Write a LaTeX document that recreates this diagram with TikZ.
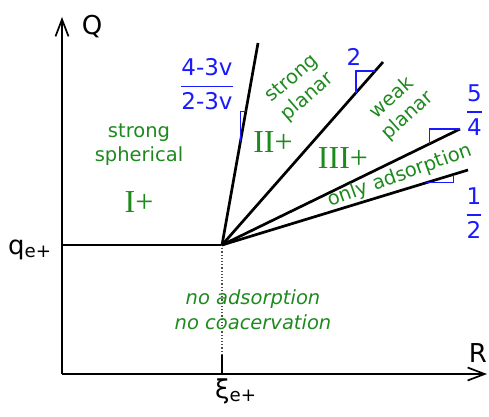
\documentclass[tikz,border=0pt]{standalone}
\usepackage{amsmath}
\usepackage{fontspec}
\setsansfont{DejaVu Sans}
\newfontfamily\numfont{Liberation Serif}
\usepackage{tikz}
\usetikzlibrary{arrows.meta,calc}
\definecolor{phasegreen}{HTML}{1E8A1E}
\definecolor{slopeblue}{HTML}{1A1AFF}
\newcommand{\expfrac}[2]{$\genfrac{}{}{1.3pt}{0}{\text{#1}}{\text{#2}}$}

\tikzset{
  axis/.style={black,line width=2.5pt,-{Straight Barb[length=17pt,width=13pt,line width=1.7pt]}},
  phase/.style={black,line width=2.7pt},
  guide/.style={black!70,line width=1.3pt,dash pattern=on 1.2pt off 2pt},
  tickmark/.style={black,line width=1.1pt},
  slope/.style={slopeblue,line width=1.1pt},
  regtext/.style={phasegreen,font=\sffamily\fontsize{19.5}{24}\selectfont,align=center,inner sep=0pt},
  regnum/.style={phasegreen,font=\numfont\fontsize{32}{34}\selectfont,inner sep=0pt},
  expo/.style={slopeblue,font=\sffamily\fontsize{23}{26}\selectfont,inner sep=0pt},
  axlabel/.style={font=\sffamily\fontsize{26}{28}\selectfont,inner sep=0pt}
}

\begin{document}
\begin{tikzpicture}[x=1pt,y=1pt]
  \useasboundingbox (0,0) rectangle (489,416);
  \coordinate (O) at (62,42);
  \coordinate (ytip) at (62,399);
  \coordinate (xtip) at (487,42);
  \coordinate (qstart) at (62,171);
  \coordinate (J) at (222,171);
  \coordinate (dotend) at (222,61);
  \coordinate (xifoot) at (222,42);
  \coordinate (L1) at (258,373);
  \coordinate (L2) at (383,354);
  \coordinate (L3) at (460,287);
  \coordinate (L4) at (468,246);
  \draw[axis] (O) -- (ytip);
  \draw[axis] (O) -- (xtip);
  \draw[phase] (qstart) -- (J);
  \draw[guide] (J) -- (dotend);
  \draw[tickmark] (dotend) -- (xifoot);
  \foreach \e in {L1,L2,L3,L4}
    \draw[phase] (J) -- (\e);
  \draw[slope] ($(J)!0.51!(L1)$) |- ($(J)!0.663!(L1)$);
  \draw[slope] ($(J)!0.832!(L2)$) |- ($(J)!0.951!(L2)$);
  \draw[slope] ($(J)!0.87!(L3)$) |- (L3);
  \draw[slope] ($(J)!0.83!(L4)$) -| ($(J)!0.94!(L4)$);
  \node[axlabel,anchor=base] (qlab) at (92,381) {Q};
  \node[axlabel,anchor=base] (rlab) at (478,54) {R};
  \node[axlabel,anchor=base west] (qe) at (8,162) {q\textsubscript{e+}};
  \node[axlabel,anchor=base west] (xie) at (215,18) {ξ\textsubscript{e+}};
  \node[expo] (frac1) at (207,331.5) {\expfrac{4-3v}{2-3v}};
  \node[expo] (two) at (354,359) {2};
  \node[expo] (frac3) at (474.5,306) {\expfrac{5}{4}};
  \node[expo] (frac4) at (474,203) {\expfrac{1}{2}};
  \node[regtext] (sph) at (139,271) {strong\\spherical};
  \node[regnum,anchor=base] (one) at (139,204) {I+};
  \node[regnum,anchor=base] (twop) at (273,264) {II+};
  \node[regnum,anchor=base] (three) at (343,248) {III+};
  \node[regtext,rotate=41] (splan) at (300,328) {strong\\planar};
  \node[regtext,rotate=42] (wplan) at (400,309) {weak\\planar};
  \node[regtext,rotate=20] (only) at (400,240) {only adsorption};
  \node[regtext,font=\sffamily\itshape\fontsize{19.5}{25}\selectfont] (none) at (253,106.5) {no adsorption\\no coacervation};
\end{tikzpicture}
\end{document}
